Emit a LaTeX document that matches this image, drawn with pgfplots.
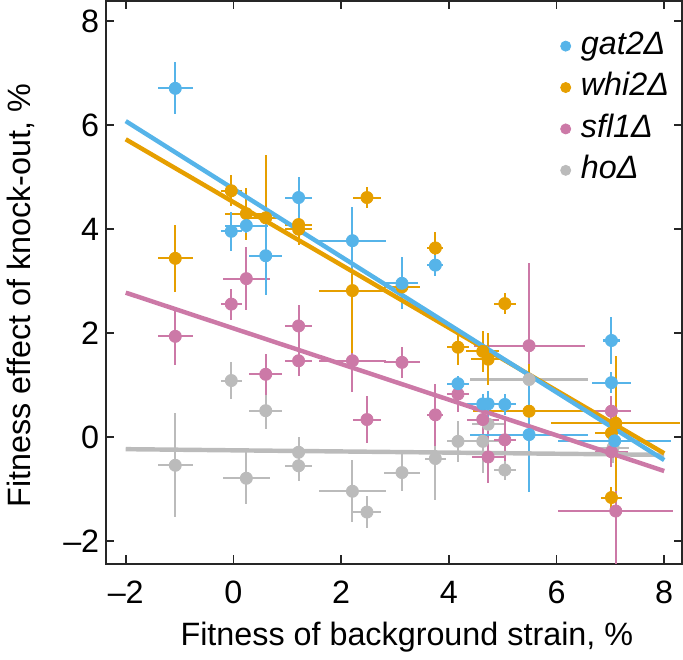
\documentclass[border=0pt]{standalone}
\usepackage{pgfplots}
\pgfplotsset{compat=1.18}
\usepackage{pgfplotstable}
\usepackage{fontspec}
\setmainfont{Liberation Sans}
\definecolor{cblue}{HTML}{56B4E9}
\definecolor{corange}{HTML}{E69F00}
\definecolor{cpink}{HTML}{CC79A7}
\definecolor{cgray}{HTML}{BBBBBB}

\pgfplotstableread{
x y ex ey
-1.08 6.71 0.32 0.50
-0.04 3.96 0.20 0.38
0.24 4.07 0.40 0.15
0.60 3.49 0.31 0.75
1.21 4.61 0.25 0.40
2.21 3.78 0.62 0.65
3.13 2.96 0.30 0.50
3.75 3.31 0.15 0.20
4.17 1.03 0.20 0.15
4.63 0.64 0.30 0.20
4.73 0.64 0.30 0.25
5.04 0.63 0.20 0.20
5.49 0.05 1.10 1.10
7.02 1.86 0.15 0.45
7.02 1.05 0.36 0.20
7.08 -0.07 1.05 0.30
}\gat

\pgfplotstableread{
x y ex ey
-1.08 3.44 0.32 0.65
-0.04 4.74 0.20 0.30
0.24 4.30 0.40 0.50
0.60 4.22 0.31 1.20
1.21 4.09 0.25 0.30
1.21 4.00 0.25 0.30
2.21 2.82 0.62 1.20
2.48 4.61 0.26 0.20
3.13 2.89 0.34 0.30
3.75 3.64 0.15 0.30
4.17 1.73 0.20 0.35
4.63 1.65 0.31 0.40
4.73 1.50 0.31 0.50
5.04 2.57 0.20 0.20
5.49 0.50 1.05 0.90
7.10 0.27 1.20 1.30
7.02 0.08 0.30 0.20
7.02 -1.16 0.20 0.20
}\whi

\pgfplotstableread{
x y ex ey
-1.08 1.94 0.32 0.55
-0.04 2.56 0.20 0.30
0.24 3.05 0.43 0.60
0.60 1.21 0.31 0.40
1.21 2.14 0.25 0.40
1.21 1.47 0.25 0.30
2.21 1.47 0.62 0.60
2.48 0.34 0.26 0.45
3.13 1.44 0.34 0.30
3.75 0.43 0.15 0.60
4.17 0.83 0.20 0.35
4.63 0.34 0.30 0.40
4.73 -0.38 0.30 0.50
5.04 -0.05 0.20 0.40
5.49 1.76 1.03 1.60
7.02 0.50 0.36 0.30
7.02 -0.28 0.30 0.30
7.10 -1.42 1.07 1.60
}\sfl

\pgfplotstableread{
x y ex ey
-1.08 -0.54 0.32 1.00
-0.04 1.09 0.20 0.35
0.24 -0.79 0.43 0.50
0.60 0.51 0.31 0.35
1.21 -0.29 0.25 0.30
1.21 -0.55 0.25 0.30
2.21 -1.04 0.62 0.60
2.48 -1.44 0.26 0.30
3.13 -0.68 0.34 0.35
3.75 -0.41 0.20 0.80
4.17 -0.08 0.20 0.40
4.63 -0.08 0.30 0.60
4.73 0.25 0.30 0.30
5.04 -0.63 0.20 0.20
5.49 1.11 1.10 0.30
7.05 -0.20 0.30 0.30
}\ho

\begin{document}
\begin{tikzpicture}
\begin{axis}[
  scale only axis, width=285pt, height=278.5pt,
  xmin=-2.36, xmax=8.33, ymin=-2.43, ymax=8.39,
  xtick={-2,0,2,4,6,8}, ytick={-2,0,2,4,6,8},
  xticklabels={\textendash2,0,2,4,6,8},
  yticklabels={\textendash2,0,2,4,6,8},
  tick align=inside, major tick length=4pt,
  axis line style={line width=1pt, black!85},
  tick style={line width=0.8pt, black!85},
  ticklabel style={font=\fontsize{16}{19}\selectfont},
  xticklabel style={yshift=-5pt},
  xlabel={Fitness of background strain, \%},
  ylabel={Fitness effect of knock-out, \%},
  label style={font=\fontsize{16}{19}\selectfont},
  xlabel style={at={([yshift=-36.5pt]axis description cs:0.522,0)}, anchor=center},
  ylabel style={at={([xshift=-42.5pt]axis description cs:0,0.476)}, anchor=center, rotate=0},
  legend image code/.code={\draw[mark repeat=2,mark phase=2,#1] plot coordinates {(0cm,0cm) (0.1cm,0cm) (0.2cm,0cm)};},
  legend style={draw=none, fill=none, at={(axis description cs:0.778,0.96)}, anchor=north west,
    font=\fontsize{16}{19}\selectfont\itshape, column sep=4pt,
    nodes={inner sep=1pt, text height=12pt, text depth=4pt}, row sep=2.5pt},
  legend cell align=left,
  error bars/error mark=none,
]
\addlegendimage{only marks, mark=*, mark size=2.5pt, color=cblue}
\addlegendentry{gat2Δ}
\addlegendimage{only marks, mark=*, mark size=2.5pt, color=corange}
\addlegendentry{whi2Δ}
\addlegendimage{only marks, mark=*, mark size=2.5pt, color=cpink}
\addlegendentry{sfl1Δ}
\addlegendimage{only marks, mark=*, mark size=2.5pt, color=cgray}
\addlegendentry{hoΔ}

\addplot[forget plot, only marks, mark=*, mark size=3pt, color=cgray,
  error bars/.cd, x dir=both, x explicit, y dir=both, y explicit, error bar style={line width=1pt}]
  table[x=x, y=y, x error=ex, y error=ey] {\ho};
\addplot[forget plot, only marks, mark=*, mark size=3pt, color=cpink,
  error bars/.cd, x dir=both, x explicit, y dir=both, y explicit, error bar style={line width=1pt}]
  table[x=x, y=y, x error=ex, y error=ey] {\sfl};
\addplot[forget plot, only marks, mark=*, mark size=3pt, color=corange,
  error bars/.cd, x dir=both, x explicit, y dir=both, y explicit, error bar style={line width=1pt}]
  table[x=x, y=y, x error=ex, y error=ey] {\whi};
\addplot[forget plot, only marks, mark=*, mark size=3pt, color=cblue,
  error bars/.cd, x dir=both, x explicit, y dir=both, y explicit, error bar style={line width=1pt}]
  table[x=x, y=y, x error=ex, y error=ey] {\gat};

\addplot[forget plot, no marks, cgray, line width=2.2pt] coordinates {(-2,-0.23) (8,-0.34)};
\addplot[forget plot, no marks, cpink, line width=2.2pt] coordinates {(-2,2.78) (8,-0.65)};
\addplot[forget plot, no marks, corange, line width=2.2pt] coordinates {(-2,5.73) (8,-0.31)};
\addplot[forget plot, no marks, cblue, line width=2.2pt] coordinates {(-2,6.08) (8,-0.44)};
\end{axis}
\end{tikzpicture}
\end{document}
